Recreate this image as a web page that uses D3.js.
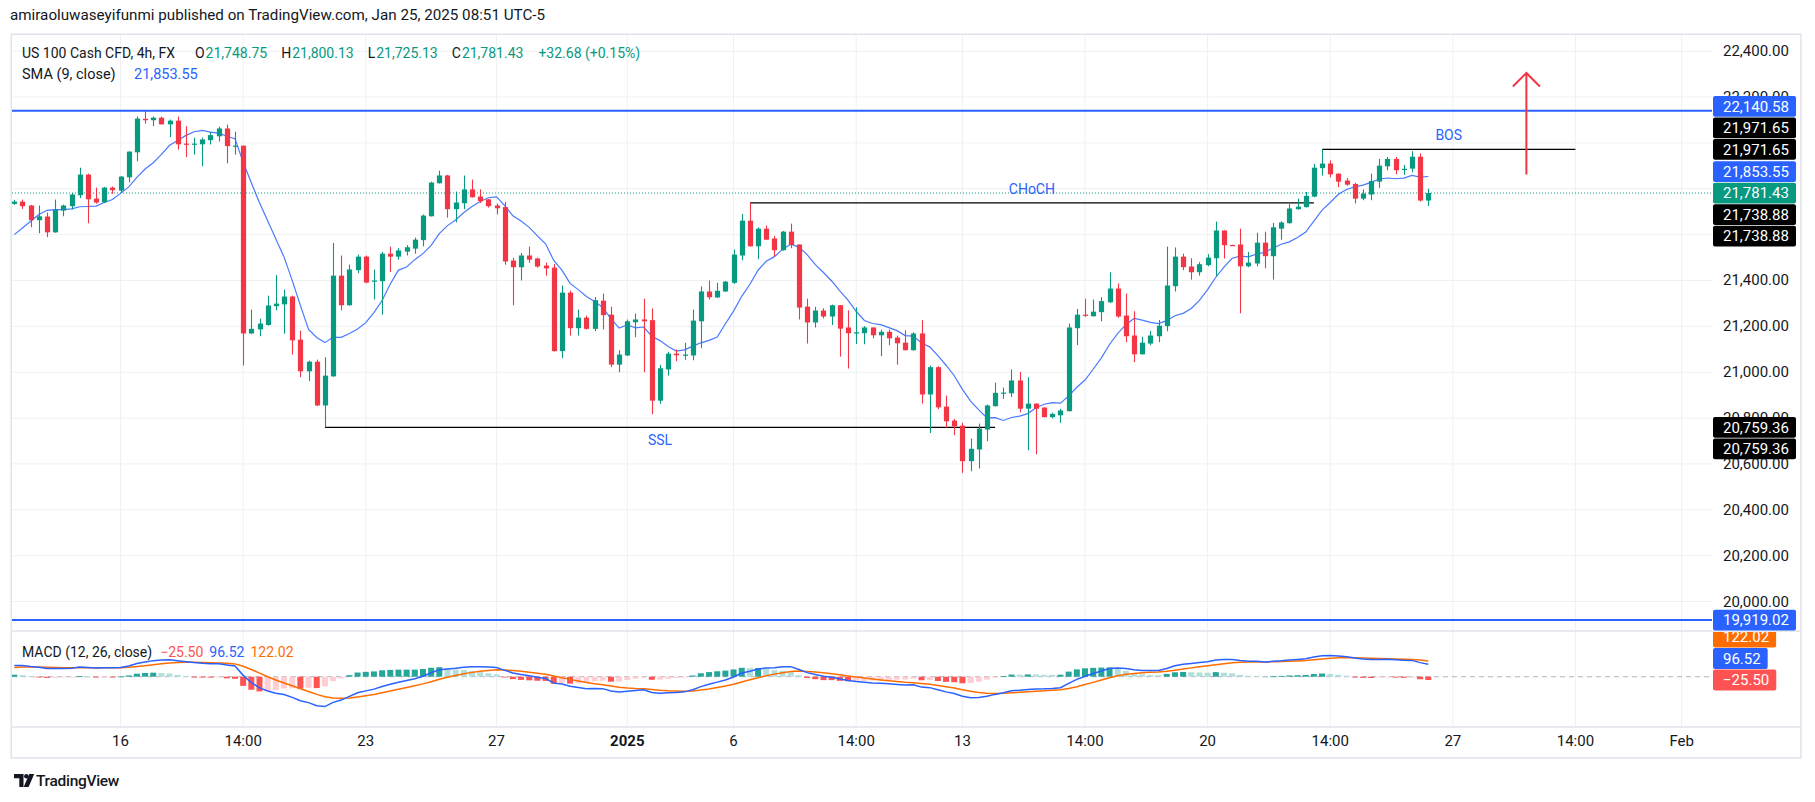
<!DOCTYPE html>
<html><head><meta charset="utf-8">
<script src="https://cdn.jsdelivr.net/npm/d3@7"></script>
<style>
body{margin:0;background:#fff;}
svg{display:block;font-family:Roboto,"Noto Sans",sans-serif;}
</style>
</head><body>
<svg id="c" width="1815" height="802"></svg>
<script>
// ---------------- DATA ----------------
const opens = [
21734,21744,21727,21663,21679,21610,21705,21724,21772,21862,
21757,21741,21805,21792,21850,21959,22105,22099,22110,22081,
22097,21997,21994,21994,22012,22029,22063,21986,21988,21169,
21187,21206,21288,21296,21330,21142,21004,21046,20855,20982,
21421,21292,21445,21504,21397,21397,21517,21504,21526,21539,
21576,21680,21824,21858,21711,21737,21797,21766,21754,21727,
21720,21487,21458,21509,21496,21465,21456,21092,21347,21192,
21238,21189,21312,21251,21033,21073,21218,21230,21227,20876,
21012,21081,21074,21073,21222,21352,21326,21352,21390,21509,
21661,21549,21626,21583,21532,21613,21557,21286,21217,21269,
21243,21292,21195,21171,21170,21195,21161,21176,21151,21129,
21096,21169,20903,21022,20850,20789,20767,20612,20663,20750,
20852,20908,20908,20964,20841,20863,20846,20804,20812,20830,
21192,21251,21244,21262,21305,21365,21247,21160,21078,21125,
21157,21201,21375,21504,21461,21436,21467,21497,21618,21555,
21557,21462,21474,21565,21506,21626,21650,21711,21720,21766,
21890,21910,21866,21836,21821,21757,21775,21831,21898,21930,
21882,21888,21940,21748.75];
const highs = [
21752,21753,21730,21727,21696,21753,21731,21782,21892,21866,
21805,21808,21810,21856,21964,22115,22140,22115,22115,22102,
22115,22073,22023,22023,22048,22071,22080,22049,21989,21273,
21234,21334,21423,21360,21334,21182,21051,21055,21065,21564,
21509,21469,21513,21509,21448,21525,21548,21542,21554,21587,
21688,21831,21879,21861,21788,21858,21840,21797,21755,21736,
21743,21499,21520,21548,21500,21478,21472,21378,21356,21273,
21247,21328,21343,21286,21096,21230,21256,21321,21278,21032,
21089,21099,21128,21273,21374,21400,21390,21398,21535,21690,
21738.88,21632,21640,21594,21616,21648,21557,21321,21285,21279,
21295,21293,21270,21283,21201,21196,21186,21186,21160,21183,
21174,21227,21029,21026,20898,20796,20779,20711,20776,20859,
20955,20933,21012,21001,20978,20864,20846,20824,20840,21212,
21276,21321,21317,21327,21436,21387,21343,21266,21155,21180,
21228,21548,21544,21517,21497,21480,21515,21657,21619,21556,
21626,21525,21608,21613,21651,21658,21733,21757,21786,21908,
21971.65,21924,21867,21847,21826,21797,21866,21930,21939,21939,
21904,21964,21954,21800.13];
const lows = [
21730,21712,21632,21606,21589,21608,21680,21709,21759,21650,
21735,21739,21778,21782,21828,21920,22084,22073,22080,22025,
21971,21938,21949,21898,21993,22006,21911,21949,21029,21167,
21157,21203,21270,21168,21077,20978,20961,20852,20759.36,20980,
21270,21290,21432,21388,21317,21251,21437,21491,21509,21517,
21549,21679,21823,21674,21654,21711,21762,21738,21718,21688,
21469,21292,21400,21477,21456,21421,21090,21061,21160,21160,
21186,21179,21186,21022,21000,21071,21153,21000,20817,20862,
20985,21048,21054,21052,21105,21317,21324,21350,21385,21488,
21548,21493,21577,21506,21530,21541,21230,21125,21195,21235,
21206,21068,21016,21123,21122,21148,21070,21118,21033,21094,
21094,20863,20735,20839,20757,20725,20561,20568,20580,20699,
20850,20884,20892,20825,20660,20642,20803,20798,20779,20829,
21118,21241,21243,21222,21302,21238,21131,21044,21077,21118,
21131,21179,21352,21445,21404,21421,21462,21419,21496,21553,
21257,21458,21462,21453,21404,21578,21648,21709,21718,21763,
21858,21850,21807,21813,21736,21750,21750,21804,21881,21863,
21861,21872,21744,21725.13];
const closes = [
21744,21724,21663,21680,21610,21709,21727,21775,21862,21754,
21740,21805,21794,21853,21962,22106,22099,22110,22081,22097,
21994,21994,21997,22015,22034,22063,21986,21988,21169,21189,
21212,21291,21299,21330,21139,21004,21046,20855,20985,21421,
21292,21448,21504,21391,21400,21517,21504,21531,21545,21578,
21683,21827,21858,21711,21740,21797,21763,21746,21724,21715,
21483,21458,21509,21491,21461,21453,21092,21347,21192,21238,
21189,21314,21249,21033,21077,21222,21230,21222,20876,21017,
21081,21074,21077,21225,21352,21327,21355,21395,21513,21661,
21549,21626,21578,21532,21613,21555,21282,21217,21269,21243,
21292,21190,21170,21174,21195,21161,21176,21148,21126,21096,
21169,20903,21022,20847,20786,20764,20612,20666,20754,20855,
20910,20911,20964,20841,20863,20841,20804,20818,20833,21195,
21251,21247,21264,21310,21365,21243,21157,21078,21129,21160,
21203,21378,21504,21458,21436,21471,21500,21618,21554,21554,
21462,21478,21565,21506,21632,21653,21714,21722,21769,21892,
21910,21863,21831,21818,21757,21779,21834,21901,21930,21881,
21887,21940,21748.75,21781.43];
// closes before the visible window (estimated, feed the SMA)
const priorCloses = [21463,21402,21410,21448,21682,21727,21748,21776];
// EMA12, EMA26, signal state just before the first visible bar (estimated)
const emaSeeds = [21645,21560,67];

const xTickIndex  = [13,28,43,59,75,88,103,116,131,146,161,176,191,204];
const xTickLabels = ["16","14:00","23","27","2025","6","14:00","13","14:00","20","14:00","27","14:00","Feb"];
const yTicks = [20000,20200,20400,20600,20800,21000,21200,21400,21600,21800,22000,22200,22400];

const hLevels = [22140.58,19919.02];
const structNames  = ["BOS","CHoCH","SSL"];
const structPrices = [21971.65,21738.88,20759.36];
const structFrom   = [160,90,38];
const structTo     = [191,159,120];
const arrowBar = 185, arrowFrom = 21862, arrowTo = 22305;

const smaLast = 21853.55;
const macdLegend = [-25.50,96.52,122.02]; // histogram, MACD, signal

// ---------------- LAYOUT ----------------
const svg = d3.select("#c");
const L = 12, R = 1712, TOP = 35, MB = 631, DB = 727, FR = 1801;
const GREEN = "#089981", RED = "#F23645", BLUE = "#2962FF", ORANGE = "#FF6D00", TXT = "#131722";
const GRID = "#eef0f4";
const fmt = d3.format(",.2f");

const x = d3.scaleLinear().domain([0, closes.length - 1]).range([14.3, 1428.3]);
const y = d3.scaleLinear().domain([20000, 22400]).range([601.5, 51.2]);
const ym = d3.scaleLinear().domain([0, 100]).range([676.7, 663.7]);

const defs = svg.append("defs");
defs.append("clipPath").attr("id","cm").append("rect").attr("x",L).attr("y",TOP).attr("width",R-L).attr("height",MB-TOP);
defs.append("clipPath").attr("id","cd").append("rect").attr("x",L).attr("y",MB).attr("width",R-L).attr("height",DB-MB);
defs.append("clipPath").attr("id","cdl").append("rect").attr("x",R).attr("y",MB+1).attr("width",FR-R).attr("height",DB-MB-1);

svg.append("rect").attr("width",1815).attr("height",802).attr("fill","#fff");

// attribution
svg.append("text").attr("x",10).attr("y",20).attr("font-size",15.2).attr("fill",TXT)
  .text("amiraoluwaseyifunmi published on TradingView.com, Jan 25, 2025 08:51 UTC-5");

// grid
const grid = svg.append("g");
xTickIndex.forEach(i => grid.append("line").attr("x1",x(i)).attr("x2",x(i)).attr("y1",TOP).attr("y2",DB).attr("stroke",GRID));
yTicks.forEach(p => { const yy = y(p); if (yy > TOP && yy < MB) grid.append("line").attr("x1",L).attr("x2",R).attr("y1",yy).attr("y2",yy).attr("stroke",GRID); });

// frame & separators
svg.append("rect").attr("x",11.25).attr("y",34.25).attr("width",FR-11.25).attr("height",758-34.25).attr("fill","none").attr("stroke","#e0e3eb").attr("stroke-width",1.5);
svg.append("line").attr("x1",L).attr("x2",FR).attr("y1",MB).attr("y2",MB).attr("stroke","#e0e3eb").attr("stroke-width",1.5);
svg.append("line").attr("x1",L).attr("x2",FR).attr("y1",DB).attr("y2",DB).attr("stroke","#e0e3eb").attr("stroke-width",1.5);

// time axis labels
xTickIndex.forEach((i,k) => svg.append("text").attr("x",x(i)).attr("y",746).attr("text-anchor","middle")
  .attr("font-size",15).attr("fill",TXT).attr("font-weight", xTickLabels[k]==="2025" ? 700 : 400).text(xTickLabels[k]));

// ---------------- MAIN PANE ----------------
const main = svg.append("g").attr("clip-path","url(#cm)");

hLevels.forEach(p => main.append("line").attr("x1",L).attr("x2",R).attr("y1",y(p)).attr("y2",y(p)).attr("stroke",BLUE).attr("stroke-width",2));

const lastC = closes[closes.length-1];
main.append("line").attr("x1",L).attr("x2",R).attr("y1",y(lastC)).attr("y2",y(lastC)).attr("stroke",GREEN).attr("stroke-width",1).attr("stroke-dasharray","1,2");

structNames.forEach((n,k) => {
  const yy = y(structPrices[k]);
  main.append("line").attr("x1",x(structFrom[k])).attr("x2",x(structTo[k])).attr("y1",yy).attr("y2",yy).attr("stroke","#000").attr("stroke-width",1.2);
  const mid = (x(structFrom[k]) + x(structTo[k])) / 2;
  main.append("text").attr("x",mid).attr("y", n === "SSL" ? yy + 18 : yy - 9).attr("text-anchor","middle")
    .attr("font-size",14).attr("fill",BLUE).text(n);
});

// SMA 9
const allC = priorCloses.concat(closes);
const sma = closes.map((c,i) => d3.mean(allC.slice(i + priorCloses.length - 8, i + priorCloses.length + 1)));
main.append("path").datum(sma).attr("fill","none").attr("stroke",BLUE).attr("stroke-width",1.2).attr("opacity",0.85)
  .attr("d", d3.line().x((d,i)=>x(i)).y(d=>y(d)));

// candles
const bw = 5.2;
const cg = main.append("g");
closes.forEach((c,i) => {
  const o = opens[i], up = c >= o, col = up ? GREEN : RED, cx = Math.round(x(i)) + 0.5;
  cg.append("line").attr("x1",cx).attr("x2",cx).attr("y1",y(highs[i])).attr("y2",y(lows[i])).attr("stroke",col).attr("stroke-width",1.1);
  const t = y(Math.max(o,c)), b = y(Math.min(o,c));
  cg.append("rect").attr("x",cx - bw/2).attr("y",t).attr("width",bw).attr("height",Math.max(1.2,b-t)).attr("fill",col);
});

// arrow
const ax = x(arrowBar), ay0 = y(arrowFrom), ay1 = y(arrowTo);
main.append("path").attr("d",`M${ax},${ay0}L${ax},${ay1}M${ax-13.5},${ay1+13.5}L${ax},${ay1}L${ax+13.5},${ay1+13.5}`)
  .attr("fill","none").attr("stroke",RED).attr("stroke-width",2);

// ---------------- MACD PANE ----------------
const k12 = 2/13, k26 = 2/27, k9 = 2/10;
let e12 = emaSeeds[0], e26 = emaSeeds[1], sg = emaSeeds[2];
const macd = [], signal = [], hist = [];
closes.forEach(c => { e12 += (c-e12)*k12; e26 += (c-e26)*k26; const m = e12 - e26; sg += (m - sg)*k9; macd.push(m); signal.push(sg); hist.push(m - sg); });

const dg = svg.append("g").attr("clip-path","url(#cd)");
dg.append("line").attr("x1",L).attr("x2",R).attr("y1",ym(0)).attr("y2",ym(0)).attr("stroke","#B2B5BE").attr("stroke-dasharray","5,4");
hist.forEach((h,i) => {
  const prev = i > 0 ? hist[i-1] : h;
  const col = h >= 0 ? (h >= prev ? "#26A69A" : "#B2DFDB") : (h < prev ? "#FF5252" : "#FFCDD2");
  const y0 = ym(0), y1 = ym(h);
  dg.append("rect").attr("x",x(i)-3).attr("width",6).attr("y",Math.min(y0,y1)).attr("height",Math.max(0.8,Math.abs(y1-y0))).attr("fill",col);
});
dg.append("path").datum(signal).attr("fill","none").attr("stroke",ORANGE).attr("stroke-width",1.5).attr("d",d3.line().x((d,i)=>x(i)).y(d=>ym(d)));
dg.append("path").datum(macd).attr("fill","none").attr("stroke",BLUE).attr("stroke-width",1.5).attr("d",d3.line().x((d,i)=>x(i)).y(d=>ym(d)));

// ---------------- LEGENDS (chained with measured widths) ----------------
function legend(items, x0, yb, size) {
  let cx = x0;
  items.forEach(it => {
    const t = svg.append("text").attr("x",cx).attr("y",yb).attr("font-size",size).attr("fill",it[1]).text(it[0]);
    cx += t.node().getComputedTextLength() + it[2];
  });
}
const n = closes.length - 1;
const chg = closes[n] - closes[n-1];
legend([
  ["US 100 Cash CFD, 4h, FX",TXT,20],
  ["O",TXT,1],[fmt(opens[n]),GREEN,14],
  ["H",TXT,1],[fmt(highs[n]),GREEN,14],
  ["L",TXT,1],[fmt(lows[n]),GREEN,14],
  ["C",TXT,1],[fmt(closes[n]),GREEN,15],
  [(chg>=0?"+":"")+fmt(chg)+" (+"+(chg/closes[n-1]*100).toFixed(2)+"%)",GREEN,0]
], 22, 58, 14);
svg.append("text").attr("x",22).attr("y",79).attr("font-size",14.5).attr("fill",TXT).text("SMA (9, close)");
svg.append("text").attr("x",134).attr("y",79).attr("font-size",14.5).attr("fill",BLUE).text(fmt(smaLast));
legend([["MACD (12, 26, close)",TXT,8],[d3.format(".2f")(macdLegend[0]),"#FF5252",6],[fmt(macdLegend[1]),BLUE,6],[fmt(macdLegend[2]),ORANGE,0]], 22, 657, 14);

// ---------------- AXIS LABEL BOXES ----------------
function layoutBoxes(list, anchorIdx, step) {
  list.forEach(d => d.y = d.y0);
  for (let i = anchorIdx - 1; i >= 0; i--) list[i].y = Math.min(list[i].y0, list[i+1].y - step);
  for (let i = anchorIdx + 1; i < list.length; i++) list[i].y = Math.max(list[i].y0, list[i-1].y + step);
}
function drawBoxes(list, clip) {
  const g = svg.append("g"); if (clip) g.attr("clip-path", clip);
  list.forEach(d => {
    const r = g.append("rect").attr("x",1713).attr("y",d.y - 10.4).attr("height",20.8).attr("rx",2).attr("fill",d.bg);
    const t = g.append("text").attr("x",1723).attr("y",d.y + 5.2).attr("font-size",15).attr("fill","#fff").text(d.txt);
    const w = t.node().getComputedTextLength();
    r.attr("width", Math.max(d.minW || 0, w + 17));
  });
}
const macdList = [
  {y0: ym(macdLegend[2]), bg: ORANGE, txt: fmt(macdLegend[2])},
  {y0: ym(macdLegend[1]), bg: BLUE, txt: fmt(macdLegend[1])},
  {y0: ym(macdLegend[0]), bg: "#FF5252", txt: d3.format(".2f")(macdLegend[0]).replace("-","\u2212")}
];
layoutBoxes(macdList, 2, 21.5);
const mainList = [
  {y0: y(hLevels[0]), bg: BLUE, txt: fmt(hLevels[0])},
  {y0: y(structPrices[0]), bg: "#000", txt: fmt(structPrices[0])},
  {y0: y(structPrices[0]), bg: "#000", txt: fmt(structPrices[0])},
  {y0: y(smaLast), bg: BLUE, txt: fmt(smaLast)},
  {y0: y(lastC), bg: GREEN, txt: fmt(lastC)},
  {y0: y(structPrices[1]), bg: "#000", txt: fmt(structPrices[1])},
  {y0: y(structPrices[1]), bg: "#000", txt: fmt(structPrices[1])},
  {y0: y(structPrices[2]), bg: "#000", txt: fmt(structPrices[2])},
  {y0: y(structPrices[2]), bg: "#000", txt: fmt(structPrices[2])},
  {y0: y(hLevels[1]), bg: BLUE, txt: fmt(hLevels[1])}
];
mainList.forEach(d => d.minW = 83);
layoutBoxes(mainList, 4, 21.5);

// price axis tick labels (those fully hidden by a label box are not drawn)
const axisG = svg.append("g").attr("font-size",15).attr("fill",TXT);
yTicks.forEach(p => {
  const yy = y(p);
  if (yy <= TOP + 5 || yy >= MB - 5) return;
  if (mainList.some(d => Math.abs(d.y - yy) < 8)) return;
  axisG.append("text").attr("x",1723).attr("y",yy+5).text(fmt(p));
});

drawBoxes(macdList, "url(#cdl)");
drawBoxes(mainList, null);

// ---------------- LOGO ----------------
const lg = svg.append("g").attr("fill",TXT);
lg.append("path").attr("d","M14,774 h9.5 v13 h-4.2 v-8.8 h-5.3 z");
lg.append("circle").attr("cx",26.3).attr("cy",776.2).attr("r",2.2);
lg.append("path").attr("d","M29.2,774 h5 l-5.6,13 h-4.9 z");
svg.append("text").attr("x",36).attr("y",786).attr("font-size",15.5).attr("font-weight",500).attr("fill",TXT).attr("letter-spacing",-0.3).text("TradingView");
</script>
</body></html>
